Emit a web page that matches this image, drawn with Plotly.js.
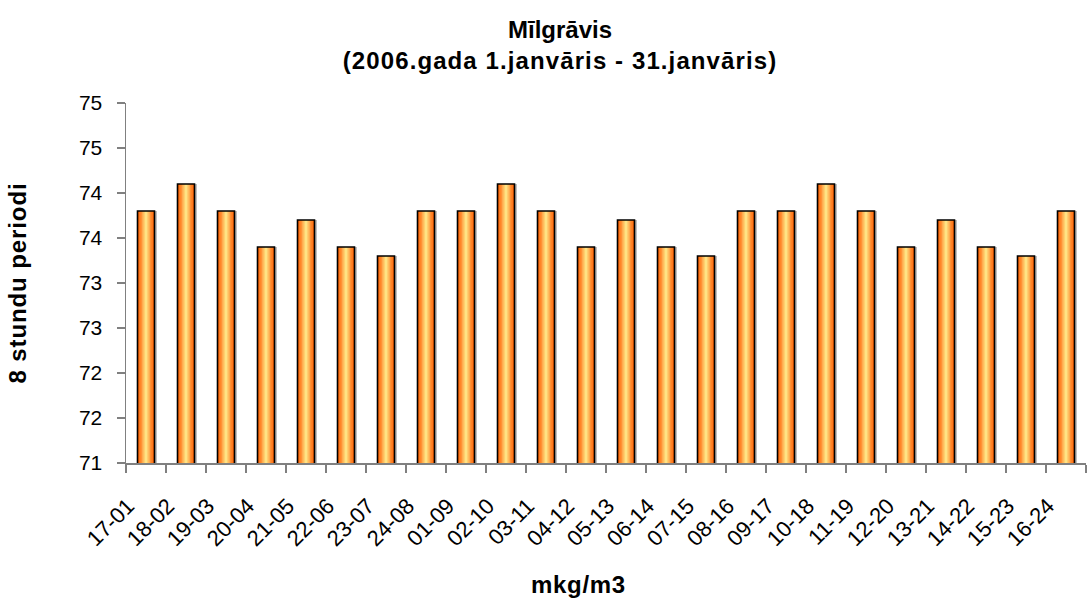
<!DOCTYPE html>
<html>
<head>
<meta charset="utf-8">
<script src="https://cdn.plot.ly/plotly-3.0.1.min.js"></script>
<style>
html,body{margin:0;padding:0;background:#fff;}
#chart{width:1087px;height:599px;}
</style>
</head>
<body>
<div id="chart"></div>
<script>
// ---- data ----
const categories = ['17-01','18-02','19-03','20-04','21-05','22-06','23-07','24-08',
                    '01-09','02-10','03-11','04-12','05-13','06-14','07-15','08-16',
                    '09-17','10-18','11-19','12-20','13-21','14-22','15-23','16-24'];
const values = [73.8, 74.1, 73.8, 73.4, 73.7, 73.4, 73.3, 73.8,
                73.8, 74.1, 73.8, 73.4, 73.7, 73.4, 73.3, 73.8,
                73.8, 74.1, 73.8, 73.4, 73.7, 73.4, 73.3, 73.8];
const yTickVals = [71, 71.5, 72, 72.5, 73, 73.5, 74, 74.5, 75];
const yTickText = ['71', '72', '72', '73', '73', '74', '74', '75', '75'];
const titleLines = ['Mīlgrāvis', '(2006.gada 1.janvāris - 31.janvāris)'];
const xTitle = 'mkg/m3';
const yTitle = '8 stundu periodi';

const FONT = 'Arial, "Liberation Sans", Helvetica, sans-serif';

// bar appearance: an orange bar with a lighter centre (Excel gradient fill), drawn as
// overlaid bars of the same values with narrower widths
const BAR_W = 0.425;
const shadeLayers = [
  {w: 1.00, c: '#FF6400'},
  {w: 0.82, c: '#FF7A1E'},
  {w: 0.64, c: '#FF9236'},
  {w: 0.47, c: '#FFAC50'},
  {w: 0.31, c: '#FFC868'},
  {w: 0.15, c: '#FFE384'}
];

const traces = [];
// soft grey shadow to the right of each bar
traces.push({
  type: 'bar', x: categories, y: values,
  width: BAR_W, offset: -BAR_W / 2 + 0.06,
  marker: {color: 'rgba(128,128,128,0.55)', line: {width: 0}},
  hoverinfo: 'skip'
});
shadeLayers.forEach(function (l) {
  traces.push({
    type: 'bar', x: categories, y: values,
    width: BAR_W * l.w,
    marker: {color: l.c, line: {width: 0}},
    hoverinfo: 'skip'
  });
});
// black outline on top
traces.push({
  type: 'bar', x: categories, y: values,
  width: BAR_W,
  marker: {color: 'rgba(0,0,0,0)', line: {color: '#000000', width: 1.6}},
  hoverinfo: 'skip'
});

const layout = {
  width: 1087,
  height: 599,
  paper_bgcolor: '#ffffff',
  plot_bgcolor: '#ffffff',
  margin: {l: 126, r: 1, t: 103, b: 136, autoexpand: false},
  font: {family: FONT, color: '#000000', size: 20},
  barmode: 'overlay',
  showlegend: false,
  title: {
    text: '<b>' + titleLines[0] + '</b><br><b><span style="letter-spacing:1.1px">' + titleLines[1] + '</span></b>',
    font: {family: FONT, size: 24, color: '#000'},
    xref: 'paper', x: (560 - 126) / 960, xanchor: 'center',
    yref: 'container', y: 1 - 38 / 599, yanchor: 'middle'
  },
  xaxis: {
    type: 'category',
    showgrid: false,
    zeroline: false,
    showline: true,
    linecolor: '#808080',
    linewidth: 1.5,
    ticks: 'outside',
    tickson: 'boundaries',
    ticklen: 8,
    tickcolor: '#808080',
    tickwidth: 1.5,
    tickangle: -45,
    ticklabelstandoff: 20,
    ticklabelshift: -18,
    tickfont: {family: FONT, size: 22, color: '#000'},
    automargin: false
  },
  yaxis: {
    range: [71, 75],
    tickmode: 'array',
    tickvals: yTickVals,
    ticktext: yTickText,
    showgrid: false,
    zeroline: false,
    showline: true,
    linecolor: '#808080',
    linewidth: 1.5,
    ticks: 'outside',
    ticklen: 8,
    tickcolor: '#808080',
    tickwidth: 1.5,
    ticklabelstandoff: 10,
    tickfont: {family: FONT, size: 21, color: '#000'},
    automargin: false,
    title: {text: '<b><span style="letter-spacing:0.9px">' + yTitle + '</span></b>', font: {family: FONT, size: 24, color: '#000'}, standoff: 45}
  },
  annotations: [{
    text: '<b><span style="letter-spacing:0.7px">' + xTitle + '</span></b>',
    xref: 'paper', yref: 'paper',
    x: (578 - 126) / 960, y: -(584 - 463) / 360,
    xanchor: 'center', yanchor: 'middle',
    showarrow: false,
    font: {family: FONT, size: 24, color: '#000'}
  }]
};

Plotly.newPlot('chart', traces, layout, {staticPlot: true, displayModeBar: false});
</script>
</body>
</html>
